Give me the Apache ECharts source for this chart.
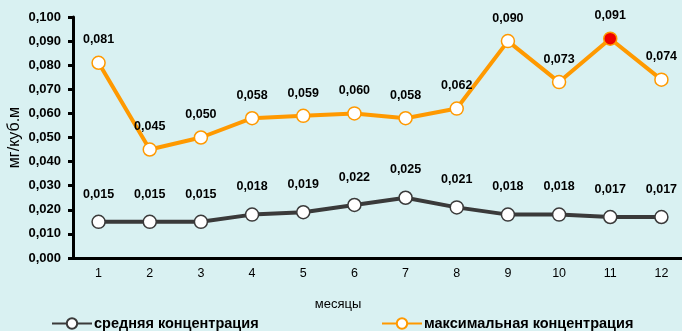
<!DOCTYPE html>
<html><head><meta charset="utf-8">
<script src="https://cdn.jsdelivr.net/npm/echarts@6/dist/echarts.min.js"></script>
<style>html,body{margin:0;padding:0;background:#d9f1f2}#c{width:682px;height:331px}</style>
</head><body><div id="c"></div>
<script>
const months = ['1','2','3','4','5','6','7','8','9','10','11','12'];
const avgConc = [0.015,0.015,0.015,0.018,0.019,0.022,0.025,0.021,0.018,0.018,0.017,0.017];
const maxConc = [0.081,0.045,0.050,0.058,0.059,0.060,0.058,0.062,0.090,0.073,0.091,0.074];
const highlightIndex = 10;
const fmt = p => p.value.toFixed(3).replace('.', ',');
const chart = echarts.init(document.getElementById('c'));
chart.setOption({
  backgroundColor: '#d9f1f2',
  animation: false,
  textStyle: {fontFamily: 'Liberation Sans, Arial, sans-serif'},
  grid: {left: 73, right: -5, top: 17, bottom: 73, containLabel: false, outerBoundsMode: 'none'},
  legend: [
    {data: ['средняя концентрация'], left: 46, top: 311, itemWidth: 40, itemHeight: 13, itemGap: 0,
     textStyle: {fontSize: 14.5, fontWeight: 'bold', color: '#000', padding: [0, 0, 0, -3]}},
    {data: ['максимальная концентрация'], left: 376, top: 311, itemWidth: 40, itemHeight: 13,
     textStyle: {fontSize: 14.5, fontWeight: 'bold', color: '#000', padding: [0, 0, 0, -3]}}
  ],
  xAxis: {
    type: 'category', data: months, boundaryGap: true,
    name: 'месяцы', nameLocation: 'middle', nameGap: 40,
    nameTextStyle: {fontSize: 13, color: '#000', padding: [0, 84, 0, 0]},
    axisLine: {lineStyle: {color: '#000', width: 3}},
    axisTick: {show: false},
    axisLabel: {fontSize: 12.5, color: '#000', margin: 9}
  },
  yAxis: {
    type: 'value', min: 0, max: 0.1, interval: 0.01,
    name: 'мг/куб.м', nameLocation: 'middle', nameRotate: 90, nameGap: 50,
    nameMoveOverlap: false,
    nameTextStyle: {fontSize: 16, color: '#000'},
    axisLine: {show: true, lineStyle: {color: '#000', width: 3}},
    axisTick: {show: true, length: 5, lineStyle: {color: '#000', width: 3}},
    splitLine: {show: false},
    axisLabel: {fontSize: 13, fontWeight: 'bold', color: '#000', margin: 12,
      formatter: v => v.toFixed(3).replace('.', ',')}
  },
  series: [
    {name: 'средняя концентрация', type: 'line', data: avgConc,
     symbol: 'circle', symbolSize: 13,
     lineStyle: {color: '#3a3a3a', width: 4},
     itemStyle: {color: '#ffffff', borderColor: '#3a3a3a', borderWidth: 1.5},
     label: {show: true, position: 'top', distance: 14, formatter: fmt,
       fontSize: 12.5, fontWeight: 'bold', color: '#000'}},
    {name: 'максимальная концентрация', type: 'line',
     data: maxConc.map((v, i) => i === highlightIndex ?
       {value: v, itemStyle: {color: '#ee0000', borderColor: '#ff9900'}} : v),
     symbol: 'circle', symbolSize: 13,
     lineStyle: {color: '#ff9900', width: 4},
     itemStyle: {color: '#ffffff', borderColor: '#ff9900', borderWidth: 1.5},
     label: {show: true, position: 'top', distance: 9, formatter: fmt,
       fontSize: 12.5, fontWeight: 'bold', color: '#000'}}
  ]
});
</script></body></html>
